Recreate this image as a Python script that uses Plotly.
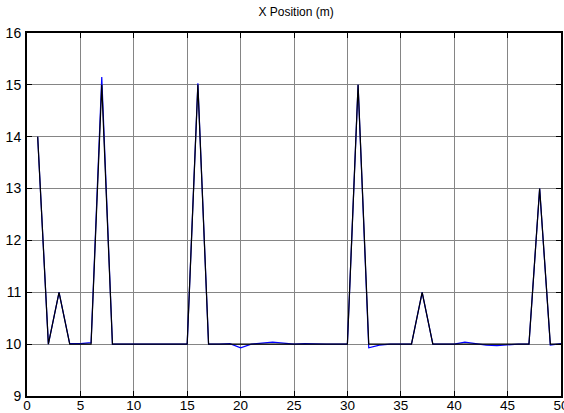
import plotly.graph_objects as go

steps = list(range(1, 51))
true_x = [14, 10, 11, 10, 10, 10, 15, 10, 10, 10,
          10, 10, 10, 10, 10, 15, 10, 10, 10, 10,
          10, 10, 10, 10, 10, 10, 10, 10, 10, 10,
          15, 10, 10, 10, 10, 10, 11, 10, 10, 10,
          10, 10, 10, 10, 10, 10, 10, 13, 10, 10]
est_x = [14.0, 10.0, 11.0, 10.01, 10.01, 10.03, 15.15, 10.0, 10.0, 10.0,
         10.0, 10.0, 10.0, 10.0, 10.0, 15.03, 10.0, 10.0, 10.01, 9.93,
         10.0, 10.02, 10.04, 10.02, 10.0, 10.01, 10.0, 10.0, 10.0, 10.0,
         15.0, 9.93, 9.98, 10.0, 10.0, 10.0, 11.0, 10.0, 10.0, 10.0,
         10.04, 10.01, 9.98, 9.97, 9.99, 10.0, 10.0, 13.0, 9.98, 10.01]

x_ticks = [0, 5, 10, 15, 20, 25, 30, 35, 40, 45, 50]
y_ticks = [9, 10, 11, 12, 13, 14, 15, 16]

fig = go.Figure()
fig.add_trace(go.Scatter(x=steps, y=est_x, mode="lines",
                         line=dict(color="#0000ff", width=1.2), showlegend=False))
fig.add_trace(go.Scatter(x=steps, y=true_x, mode="lines",
                         line=dict(color="#000000", width=1.2), showlegend=False))

font_fam = "Liberation Sans Narrow, Liberation Sans, Arial, sans-serif"
axis_common = dict(showline=True, linecolor="black", linewidth=2, mirror="ticks",
                   ticks="inside", ticklen=5, tickcolor="black",
                   showgrid=True, gridcolor="#858585", gridwidth=1,
                   zeroline=False)

fig.update_layout(
    width=564, height=413,
    margin=dict(l=27, r=3, t=33, b=17),
    paper_bgcolor="white", plot_bgcolor="white",
    title=dict(text="X Position (m)", x=0.525, xanchor="center", y=0.972, yanchor="middle",
               font=dict(family=font_fam, size=12, color="black")),
    xaxis=dict(range=[0, 50], tickvals=x_ticks, ticktext=[str(v) for v in x_ticks],
               ticklabelstandoff=-4, ticklabeloverflow="allow", automargin=False,
               tickfont=dict(family=font_fam, size=13.5, color="black"),
               **axis_common),
    yaxis=dict(range=[9, 16], tickvals=y_ticks, ticktext=[str(v) for v in y_ticks],
               ticklabelstandoff=1, automargin=False,
               tickfont=dict(family=font_fam, size=14, color="black"),
               **axis_common),
)

fig.write_html("out.html")
